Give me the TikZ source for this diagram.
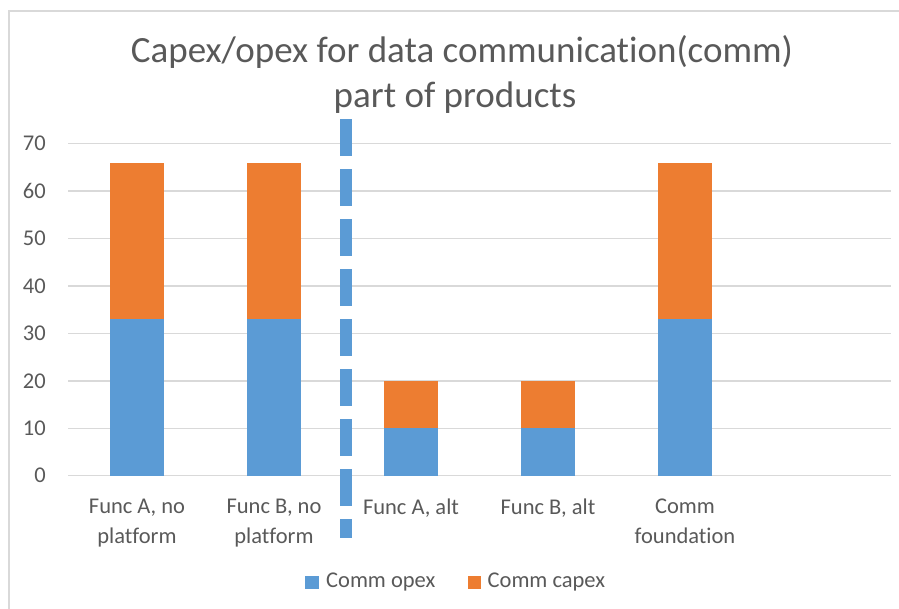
\documentclass[tikz,border=0pt]{standalone}
\usepackage{fontspec}
\setmainfont{Carlito}[Ligatures={NoCommon,NoRare}, Contextuals={NoAlternate}]
\usetikzlibrary{positioning}
\definecolor{opexblue}{HTML}{5B9BD5}
\definecolor{capexorange}{HTML}{ED7D31}
\definecolor{labelgray}{HTML}{595959}
\definecolor{gridgray}{HTML}{D9D9D9}
\tikzset
{
    gridline/.style  = {draw=gridgray, line width=1.5pt},
    titletext/.style = {font=\fontsize{37}{45}\selectfont, text=labelgray, inner sep=0pt},
    ticklabel/.style = {font=\fontsize{22.5}{30}\selectfont, text=labelgray, anchor=east, inner sep=0pt},
    catlabel/.style  = {font=\fontsize{22.5}{30}\selectfont, text=labelgray, align=center, anchor=north, inner sep=0pt},
    legendkey/.style = {minimum size=13.5pt, inner sep=0pt},
    divider/.style   = {draw=opexblue, line width=12pt, dash pattern=on 37pt off 13pt}
}
\begin{document}
\begin{tikzpicture}[x=1pt, y=-1pt]
\useasboundingbox (0,0) rectangle (899,608);
% chart frame, cut off on the right and at the bottom
\draw[draw=gridgray, line width=2pt] (9,620) -- (9,11) -- (910,11);
% title
\node[titletext] (title1) at (462,52) {Capex/opex for data communication(comm)};
\node[titletext] (title2) at (455,98) {part of products};
% gridlines and value labels
\foreach \v in {0,...,7}
{
    \pgfmathtruncatemacro\lab{\v*10}
    \draw[gridline] (68,475.7-\v*47.43) -- (891,475.7-\v*47.43);
    \node[ticklabel] (tick\v) at (46,475.7-\v*47.43) {\lab};
}
% stacked bars
\foreach \i/\c/\op/\cap/\name in {1/137/33/33/{Func A, no\\platform}, 2/274/33/33/{Func B, no\\platform}, 3/411/10/10/{Func A, alt}, 4/548/10/10/{Func B, alt}, 5/685/33/33/{Comm\\foundation}}
{
    \fill[opexblue] (\c-27,475.7) rectangle (\c+27,475.7-\op*4.743);
    \fill[capexorange] (\c-27,475.7-\op*4.743) rectangle (\c+27,475.7-\op*4.743-\cap*4.743);
    \node[catlabel] (cat\i) at (\c,499) {\name};
}
% divider between the two groups
\coordinate (divtop) at (346,119);
\coordinate (divbot) at (346,538);
\draw[divider] (divtop) -- (divbot);
% legend
\node[legendkey, fill=opexblue] (keyopex) at (312,582.5) {};
\node[ticklabel, anchor=west, right=7pt of keyopex] (legopex) {Comm opex};
\node[legendkey, fill=capexorange] (keycapex) at (474.5,582.5) {};
\node[ticklabel, anchor=west, right=6pt of keycapex] (legcapex) {Comm capex};
\end{tikzpicture}
\end{document}
